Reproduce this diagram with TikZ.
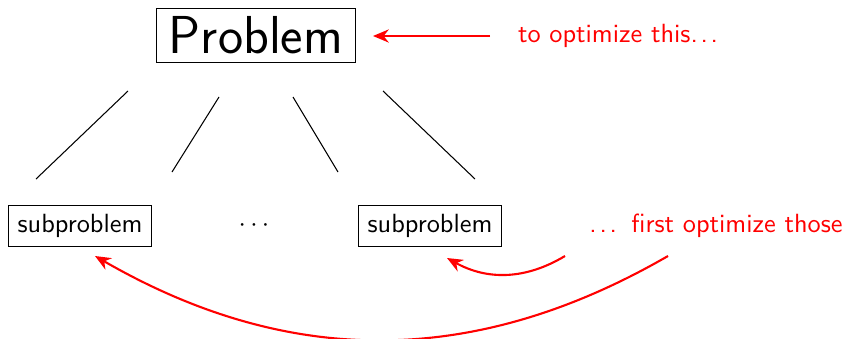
\documentclass[tikz,border=0pt]{standalone}
\usepackage{fontspec}
\usetikzlibrary{arrows.meta}
\renewcommand{\familydefault}{\sfdefault}
\newcommand{\spdots}{.\kern1.05pt.\kern1.05pt.}
\begin{document}
\begin{tikzpicture}[x=0.38pt,y=0.38pt,
  box/.style={draw,line width=0.4pt,inner sep=3.33pt,font=\sffamily},
  bigbox/.style={draw,line width=0.6pt,inner xsep=4.8pt,inner ysep=3.2pt,font=\fontsize{20.3}{24}\selectfont\sffamily},
  note/.style={text=red,inner sep=0pt,font=\sffamily},
  redarr/.style={draw=red,line width=0.8pt,-{Stealth[length=6pt,width=5pt]}},
  link/.style={line width=0.4pt}]
\useasboundingbox (0,0) rectangle (849,-339);
\node[bigbox] (prob) at (256,-35.5) {Problem};
\node[note] (note1) at (618,-36) {to optimize this\spdots};
\node[box] (sub1) at (80,-226) {subproblem};
\node (dots) at (254,-226) {$\cdots$};
\node[box] (sub2) at (430,-226) {subproblem};
\node[note] (note2) at (716,-226) {\spdots\kern2.2pt\ first optimize those};
% tree links
\coordinate (a1) at (128,-91);  \coordinate (b1) at (36,-179);
\coordinate (a2) at (219,-97);  \coordinate (b2) at (172,-172);
\coordinate (a3) at (293,-97);  \coordinate (b3) at (338,-172);
\coordinate (a4) at (383,-91);  \coordinate (b4) at (475,-179);
\draw[link] (a1) -- (b1);
\draw[link] (a2) -- (b2);
\draw[link] (a3) -- (b3);
\draw[link] (a4) -- (b4);
% red arrows
\coordinate (t1) at (490,-36); \coordinate (h1) at (373,-36);
\draw[redarr] (t1) -- (h1);
\coordinate (s0) at (565,-256); \coordinate (s1) at (447,-258);
\draw[redarr] (s0) to[bend left=30] (s1);
\coordinate (l0) at (668,-256); \coordinate (l1) at (95,-256);
\draw[redarr] (l0) to[bend left=30] (l1);
\end{tikzpicture}
\end{document}
